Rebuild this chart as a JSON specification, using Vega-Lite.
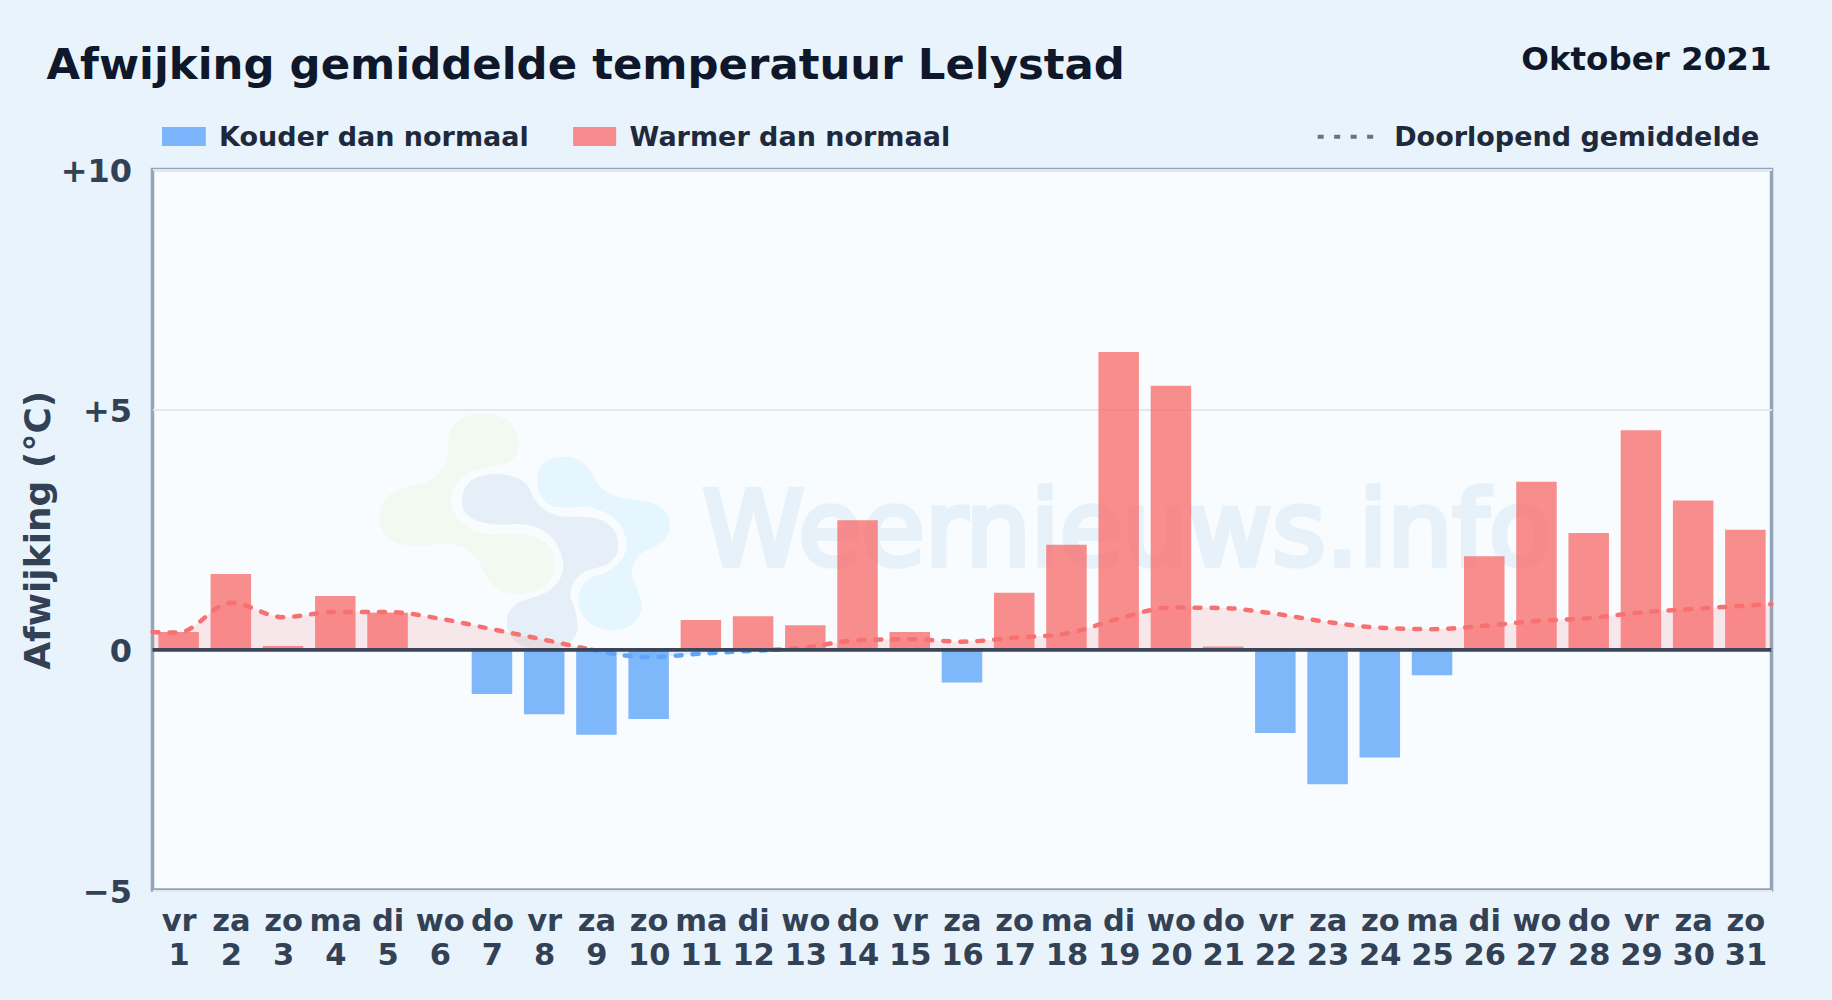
{
"$schema":"https://vega.github.io/schema/vega-lite/v6.json",
"autosize":{"type":"none"},
"width":1619,"height":720.5,
"padding":{"left":152.5,"top":169.5,"right":60.5,"bottom":110},
"background":"#e9f3fc",
"view":{"fill":"#f8fcff","stroke":"#94a3b8","strokeWidth":3.5},
"title":{"text":"Afwijking gemiddelde temperatuur Lelystad","anchor":"start","frame":"group","baseline":"alphabetic","align":"left","dx":-106,"offset":-78.5,"font":"DejaVu Sans","fontWeight":"bold","fontSize":43.4,"color":"#0f172a"},
"datasets":{
"dagen":[
{"dag":1,"afwijking":0.37,"soort":"warm"},{"dag":2,"afwijking":1.58,"soort":"warm"},{"dag":3,"afwijking":0.08,"soort":"warm"},{"dag":4,"afwijking":1.12,"soort":"warm"},{"dag":5,"afwijking":0.77,"soort":"warm"},{"dag":6,"afwijking":0,"soort":"warm"},{"dag":7,"afwijking":-0.92,"soort":"koud"},{"dag":8,"afwijking":-1.34,"soort":"koud"},{"dag":9,"afwijking":-1.77,"soort":"koud"},{"dag":10,"afwijking":-1.44,"soort":"koud"},{"dag":11,"afwijking":0.62,"soort":"warm"},{"dag":12,"afwijking":0.7,"soort":"warm"},{"dag":13,"afwijking":0.51,"soort":"warm"},{"dag":14,"afwijking":2.7,"soort":"warm"},{"dag":15,"afwijking":0.37,"soort":"warm"},{"dag":16,"afwijking":-0.68,"soort":"koud"},{"dag":17,"afwijking":1.19,"soort":"warm"},{"dag":18,"afwijking":2.19,"soort":"warm"},{"dag":19,"afwijking":6.2,"soort":"warm"},{"dag":20,"afwijking":5.5,"soort":"warm"},{"dag":21,"afwijking":0.07,"soort":"warm"},{"dag":22,"afwijking":-1.73,"soort":"koud"},{"dag":23,"afwijking":-2.8,"soort":"koud"},{"dag":24,"afwijking":-2.24,"soort":"koud"},{"dag":25,"afwijking":-0.53,"soort":"koud"},{"dag":26,"afwijking":1.95,"soort":"warm"},{"dag":27,"afwijking":3.5,"soort":"warm"},{"dag":28,"afwijking":2.43,"soort":"warm"},{"dag":29,"afwijking":4.57,"soort":"warm"},{"dag":30,"afwijking":3.11,"soort":"warm"},{"dag":31,"afwijking":2.5,"soort":"warm"}
],
"gemiddelde":[
{"dag":0.5,"waarde":0.37,"deel":"a","soort":"warm"},{"dag":1,"waarde":0.36,"deel":"a","soort":"warm"},{"dag":2,"waarde":0.98,"deel":"a","soort":"warm"},{"dag":3,"waarde":0.68,"deel":"a","soort":"warm"},{"dag":4,"waarde":0.79,"deel":"a","soort":"warm"},{"dag":5,"waarde":0.79,"deel":"a","soort":"warm"},{"dag":6,"waarde":0.65,"deel":"a","soort":"warm"},{"dag":7,"waarde":0.43,"deel":"a","soort":"warm"},{"dag":8,"waarde":0.21,"deel":"a","soort":"warm"},{"dag":8.9,"waarde":0,"deel":"a","soort":"warm"},
{"dag":8.9,"waarde":0,"deel":"b","soort":"koud"},{"dag":10,"waarde":-0.15,"deel":"b","soort":"koud"},{"dag":11,"waarde":-0.08,"deel":"b","soort":"koud"},{"dag":12,"waarde":-0.02,"deel":"b","soort":"koud"},{"dag":12.4,"waarde":0,"deel":"b","soort":"koud"},
{"dag":12.4,"waarde":0,"deel":"c","soort":"warm"},{"dag":13,"waarde":0.05,"deel":"c","soort":"warm"},{"dag":14,"waarde":0.2,"deel":"c","soort":"warm"},{"dag":15,"waarde":0.22,"deel":"c","soort":"warm"},{"dag":16,"waarde":0.17,"deel":"c","soort":"warm"},{"dag":17,"waarde":0.25,"deel":"c","soort":"warm"},{"dag":18,"waarde":0.34,"deel":"c","soort":"warm"},{"dag":19,"waarde":0.65,"deel":"c","soort":"warm"},{"dag":20,"waarde":0.88,"deel":"c","soort":"warm"},{"dag":21,"waarde":0.87,"deel":"c","soort":"warm"},{"dag":22,"waarde":0.75,"deel":"c","soort":"warm"},{"dag":23,"waarde":0.58,"deel":"c","soort":"warm"},{"dag":24,"waarde":0.46,"deel":"c","soort":"warm"},{"dag":25,"waarde":0.43,"deel":"c","soort":"warm"},{"dag":26,"waarde":0.5,"deel":"c","soort":"warm"},{"dag":27,"waarde":0.6,"deel":"c","soort":"warm"},{"dag":28,"waarde":0.66,"deel":"c","soort":"warm"},{"dag":29,"waarde":0.78,"deel":"c","soort":"warm"},{"dag":30,"waarde":0.85,"deel":"c","soort":"warm"},{"dag":31,"waarde":0.92,"deel":"c","soort":"warm"},{"dag":31.5,"waarde":0.95,"deel":"c","soort":"warm"}
],
"een":[{"id":1}]
},
"data":{"name":"dagen"},
"layer":[
{"data":{"name":"een"},"mark":{"type":"point","filled":true,"size":0.4444,"fill":"#84cc16","opacity":0.06,"strokeWidth":0,"shape":"M 370 40 Q 475 45 475 130 Q 475 185 420 195 Q 280 205 272 300 Q 280 390 400 405 Q 583 385 583 490 Q 580 582 470 582 Q 390 580 360 490 Q 330 430 240 430 Q 58 465 58 345 Q 60 270 170 255 Q 270 230 265 130 Q 260 45 370 40 Z"},
 "encoding":{"x":{"datum":4.475,"type":"quantitative"},"y":{"datum":5.2,"type":"quantitative"}}},
{"data":{"name":"een"},"mark":{"type":"point","filled":true,"size":0.4444,"fill":"#1e5a96","opacity":0.08,"strokeWidth":0,"shape":"M 305 300 Q 310 222 410 222 Q 490 225 510 270 Q 540 350 630 350 Q 775 340 775 440 Q 770 495 700 505 Q 635 520 630 590 Q 655 640 652 690 Q 640 750 545 750 Q 440 745 440 660 Q 445 610 510 595 Q 610 570 610 490 Q 590 375 470 372 Q 305 385 305 300 Z"},
 "encoding":{"x":{"datum":4.475,"type":"quantitative"},"y":{"datum":5.2,"type":"quantitative"}}},
{"data":{"name":"een"},"mark":{"type":"point","filled":true,"size":0.4444,"fill":"#38bdf8","opacity":0.09,"strokeWidth":0,"shape":"M 530 235 Q 535 170 620 170 Q 680 175 705 240 Q 740 295 820 298 Q 930 305 930 380 Q 925 430 850 455 Q 815 480 815 530 Q 845 590 845 625 Q 830 692 750 692 Q 660 680 655 600 Q 660 530 720 525 Q 800 490 800 430 Q 790 340 680 320 Q 620 325 580 320 Q 530 300 530 235 Z"},
 "encoding":{"x":{"datum":4.475,"type":"quantitative"},"y":{"datum":5.2,"type":"quantitative"}}},
{"data":{"name":"een"},"mark":{"type":"text","text":"Weernieuws.info","align":"left","baseline":"alphabetic","font":"DejaVu Sans","fontSize":103,"fontWeight":"normal","fill":"#1e6fb0","stroke":"#1e6fb0","strokeWidth":5.5,"opacity":0.07},
 "encoding":{"x":{"datum":11.03,"type":"quantitative"},"y":{"datum":1.765,"type":"quantitative"}}},
{"data":{"name":"gemiddelde"},"transform":[{"filter":"datum.soort=='warm'"}],"mark":{"type":"area","interpolate":"monotone","fill":"#f87171","fillOpacity":0.15},
 "encoding":{"x":{"field":"dag","type":"quantitative"},"y":{"field":"waarde","type":"quantitative"},"y2":{"datum":0},"detail":{"field":"deel"}}},
{"data":{"name":"gemiddelde"},"transform":[{"filter":"datum.soort=='koud'"}],"mark":{"type":"area","interpolate":"monotone","fill":"#60a5fa","fillOpacity":0.15},
 "encoding":{"x":{"field":"dag","type":"quantitative"},"y":{"field":"waarde","type":"quantitative"},"y2":{"datum":0},"detail":{"field":"deel"}}},
{"mark":{"type":"bar","width":40.5,"opacity":0.8},
 "encoding":{
  "x":{"field":"dag","type":"quantitative","scale":{"domain":[0.5,31.5],"nice":false,"zero":false,"padding":0},
   "axis":{"title":null,"values":[1,2,3,4,5,6,7,8,9,10,11,12,13,14,15,16,17,18,19,20,21,22,23,24,25,26,27,28,29,30,31],"domain":false,"ticks":false,"grid":false,"labelOverlap":false,"labelFlush":false,"labelBound":false,"labelPadding":16.5,"labelFont":"DejaVu Sans","labelFontWeight":"bold","labelFontSize":30.5,"labelLineHeight":34,"labelColor":"#334155","labelBaseline":"top",
    "labelExpr":"[['vr','za','zo','ma','di','wo','do'][(datum.value-1)%7], ''+datum.value]"}},
  "y":{"field":"afwijking","type":"quantitative","scale":{"domain":[-5,10],"nice":false,"zero":false},
   "axis":{"title":"Afwijking (°C)","values":[-5,0,5,10],"domain":false,"ticks":false,"grid":true,"gridColor":"#e2e8f0","gridWidth":2,"labelPadding":21,"labelOffset":2,"labelFont":"DejaVu Sans","labelFontWeight":"bold","labelFontSize":32,"labelColor":"#334155","titleFont":"DejaVu Sans","titleFontWeight":"bold","titleFontSize":36,"titleColor":"#334155","titlePadding":2.3,
    "labelExpr":"datum.value>0 ? '+'+datum.value : datum.value<0 ? '−'+abs(datum.value) : '0'"}},
  "color":{"field":"soort","type":"nominal","legend":null,"scale":{"domain":["koud","warm"],"range":["#60a5fa","#f87171"]}}}},
{"data":{"name":"gemiddelde"},"transform":[{"filter":"datum.soort=='warm'"}],"mark":{"type":"line","interpolate":"monotone","stroke":"#f87171","strokeWidth":4.5,"strokeDash":[6,11],"strokeCap":"round"},
 "encoding":{"x":{"field":"dag","type":"quantitative"},"y":{"field":"waarde","type":"quantitative"},"detail":{"field":"deel"}}},
{"data":{"name":"gemiddelde"},"transform":[{"filter":"datum.soort=='koud'"}],"mark":{"type":"line","interpolate":"monotone","stroke":"#60a5fa","strokeWidth":4.5,"strokeDash":[6,11],"strokeCap":"round"},
 "encoding":{"x":{"field":"dag","type":"quantitative"},"y":{"field":"waarde","type":"quantitative"},"detail":{"field":"deel"}}},
{"data":{"name":"een"},"mark":{"type":"rule","stroke":"#3b4559","strokeWidth":3.8},"encoding":{"y":{"datum":0,"type":"quantitative"}}},
{"data":{"name":"een"},"mark":{"type":"rect","fill":"#60a5fa","opacity":0.8},"encoding":{"x":{"datum":0.682,"type":"quantitative"},"x2":{"datum":1.521},"y":{"datum":10.885,"type":"quantitative"},"y2":{"datum":10.49}}},
{"data":{"name":"een"},"mark":{"type":"rect","fill":"#f87171","opacity":0.8},"encoding":{"x":{"datum":8.554,"type":"quantitative"},"x2":{"datum":9.378},"y":{"datum":10.885,"type":"quantitative"},"y2":{"datum":10.49}}},
{"data":{"name":"een"},"mark":{"type":"rule","stroke":"#64748b","strokeWidth":4,"strokeDash":[6,10.5]},"encoding":{"x":{"datum":22.81,"type":"quantitative"},"x2":{"datum":23.88},"y":{"datum":10.68,"type":"quantitative"}}},
{"data":{"name":"een"},"mark":{"type":"text","text":"Kouder dan normaal","align":"left","baseline":"alphabetic","font":"DejaVu Sans","fontWeight":"bold","fontSize":27,"fill":"#1e293b"},"encoding":{"x":{"datum":1.775,"type":"quantitative"},"y":{"datum":10.495,"type":"quantitative"}}},
{"data":{"name":"een"},"mark":{"type":"text","text":"Warmer dan normaal","align":"left","baseline":"alphabetic","font":"DejaVu Sans","fontWeight":"bold","fontSize":27,"fill":"#1e293b"},"encoding":{"x":{"datum":9.635,"type":"quantitative"},"y":{"datum":10.495,"type":"quantitative"}}},
{"data":{"name":"een"},"mark":{"type":"text","text":"Doorlopend gemiddelde","align":"left","baseline":"alphabetic","font":"DejaVu Sans","fontWeight":"bold","fontSize":27,"fill":"#1e293b"},"encoding":{"x":{"datum":24.275,"type":"quantitative"},"y":{"datum":10.495,"type":"quantitative"}}},
{"data":{"name":"een"},"mark":{"type":"text","text":"Oktober 2021","align":"right","baseline":"alphabetic","font":"DejaVu Sans","fontWeight":"bold","fontSize":32.5,"fill":"#0f172a"},"encoding":{"x":{"datum":31.5,"type":"quantitative"},"y":{"datum":12.07,"type":"quantitative"}}}
]
}
